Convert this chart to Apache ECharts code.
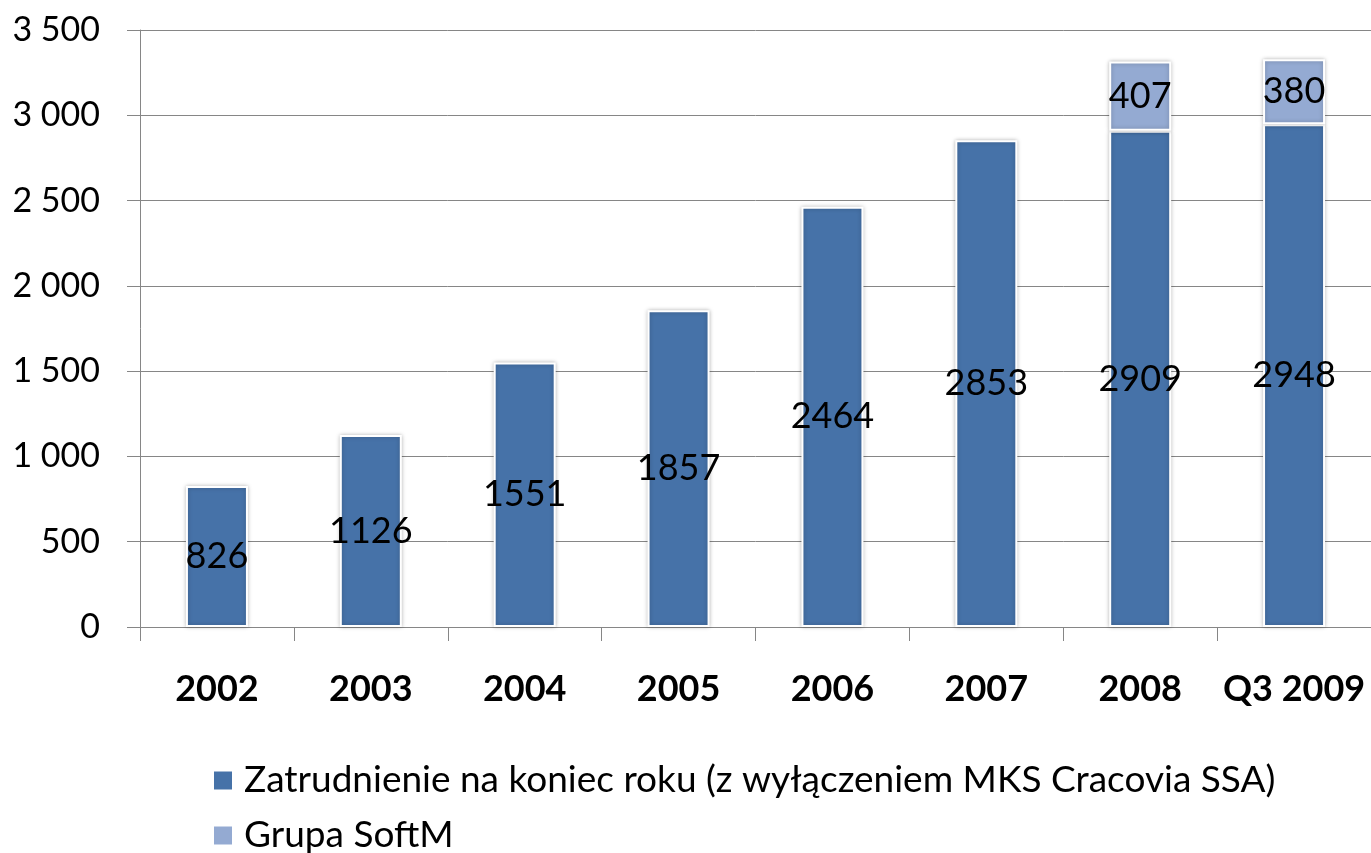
<!DOCTYPE html>
<html>
<head>
<meta charset="utf-8">
<script src="https://cdn.jsdelivr.net/npm/echarts@6/dist/echarts.min.js"></script>
<style>
  html, body { margin: 0; padding: 0; background: #fff; }
  #main { width: 1371px; height: 853px; }
</style>
</head>
<body>
<div id="main"></div>
<script>
const categories = ['2002', '2003', '2004', '2005', '2006', '2007', '2008', 'Q3 2009']
const zatrudnienie = [826, 1126, 1551, 1857, 2464, 2853, 2909, 2948]
const softm = [null, null, null, null, null, null, 407, 380]
const seriesNames = ['Zatrudnienie na koniec roku (z wyłączeniem MKS Cracovia SSA)', 'Grupa SoftM']

const chart = echarts.init(document.getElementById('main'))

const barStyle = function (color) {
  return {
    color: color,
    borderColor: '#fff',
    borderWidth: 2,
    shadowColor: 'rgba(0,0,0,0.25)',
    shadowBlur: 4
  }
}

// one legend per row, the vertical stack of the original
const legendRow = function (name, top) {
  return {
    left: 207,
    top: top,
    icon: 'rect',
    itemWidth: 20,
    itemHeight: 20,
    data: [name],
    textStyle: { fontSize: 37, color: '#000', padding: [0, 0, 0, 6], fontFamily: 'Lato' }
  }
}

chart.setOption({
  animation: false,
  textStyle: { fontFamily: 'Lato' },
  grid: { left: 140, top: 30, bottom: 226, right: -19, containLabel: false },
  legend: [legendRow(seriesNames[0], 757), legendRow(seriesNames[1], 812)],
  xAxis: {
    type: 'category',
    data: categories,
    axisLine: { lineStyle: { color: '#868686', width: 1 } },
    axisTick: { show: true, length: 14, lineStyle: { color: '#868686' } },
    axisLabel: { fontSize: 36, fontWeight: 'bold', color: '#000', margin: 44, interval: 0 }
  },
  yAxis: {
    type: 'value',
    min: 0,
    max: 3500,
    interval: 500,
    axisLine: { show: true, lineStyle: { color: '#868686', width: 1 } },
    axisTick: { show: true, length: 13, lineStyle: { color: '#868686' } },
    splitLine: { show: true, lineStyle: { color: '#868686', width: 1 } },
    axisLabel: {
      fontSize: 34,
      color: '#000',
      margin: 40,
      formatter: function (v) { return String(v).replace(/\B(?=(\d{3})+(?!\d))/g, ' ') }
    }
  },
  series: [
    {
      name: seriesNames[0],
      type: 'bar',
      stack: 'total',
      barWidth: 62,
      data: zatrudnienie,
      itemStyle: barStyle('#4672A8'),
      label: { show: true, position: 'inside', fontSize: 36, color: '#000' }
    },
    {
      name: seriesNames[1],
      type: 'bar',
      stack: 'total',
      barWidth: 62,
      data: softm,
      itemStyle: barStyle('#94AAD2'),
      label: { show: true, position: 'inside', fontSize: 36, color: '#000' }
    }
  ]
})
</script>
</body>
</html>
